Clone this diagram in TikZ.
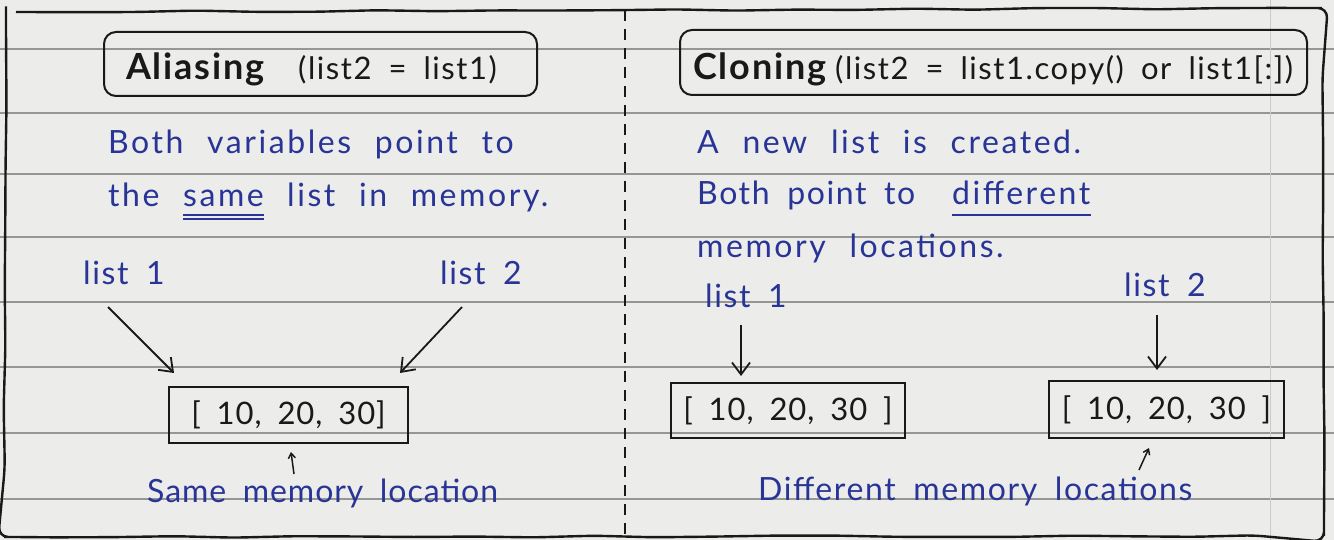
\documentclass[tikz,border=0pt]{standalone}
\usepackage{fontspec}
\setmainfont{Lato}
\newfontfamily\handfont{Lato}[LetterSpace=5, WordSpace=1.8]
\newfontfamily\parafont{Lato}[LetterSpace=8, WordSpace=2.2]
\newfontfamily\tightfont{Lato}[LetterSpace=3, WordSpace=1.8]
\usetikzlibrary{arrows.meta,decorations.pathmorphing,calc}
\definecolor{ink}{RGB}{40,52,150}
\definecolor{paper}{RGB}{236,236,234}
\definecolor{ruleline}{RGB}{150,150,148}
\definecolor{pen}{RGB}{25,25,25}
\begin{document}
\begin{tikzpicture}[x=1pt,y=-1pt,
  hand/.style={inner sep=0pt, anchor=base west, text=ink, font=\handfont\fontsize{32}{36}\selectfont},
  para/.style={hand, font=\parafont\fontsize{32}{36}\selectfont},
  ttl/.style={inner sep=0pt, anchor=base west, text=pen, font=\handfont\bfseries\fontsize{36}{40}\selectfont},
  ttlsub/.style={inner sep=0pt, anchor=base west, text=pen, font=\handfont\fontsize{31}{34}\selectfont},
  tbox/.style={draw=pen, line width=2pt, rounded corners=12pt},
  listbox/.style={draw=pen, line width=2.2pt, inner sep=0pt, text=pen, font=\tightfont\fontsize{31}{36}\selectfont},
  arr/.style={draw=pen, line width=1.8pt, -{Straight Barb[length=12pt,width=18pt,line width=1.8pt]}},
  tinyarr/.style={draw=pen, line width=1.5pt, -{Straight Barb[length=5pt,width=7pt,line width=1.5pt]}},
  uline/.style={draw=ink, line width=1.8pt}
]
\fill[paper] (0,0) rectangle (1334,540);
\useasboundingbox (0,0) rectangle (1334,540);
% ruled paper
\foreach \y in {49,113,174,237,302,367,433,499}
  \draw[ruleline, line width=1.3pt] (0,\y) -- (1334,\y);
\draw[ruleline!40!paper, line width=1pt] (1270,0) -- (1270,540);
% outer border
\draw[pen, line width=2.4pt, rounded corners=10pt, decorate,
  decoration={random steps, segment length=60pt, amplitude=0.9pt}]
  (6,12) -- (1322,8) -- (1324,536) -- (4,537) -- cycle;
% divider
\draw[pen, line width=1.6pt, dash pattern=on 11pt off 8pt] (625,10) -- (625,540);

% ---------- left: Aliasing ----------
\draw[tbox] (104,32) rectangle (537,96);
\node[ttl] (at) at (126,80) {Aliasing};
\node[ttlsub] (as) at (298,80) {(list2 = list1)};
\node[para] (b1) at (108,154) {Both variables point to};
\node[para] (the) at (108,207) {the};
\node[para] (same) at (183,207) {same};
\node[para] (lim) at (287,207) {list in memory.};
\draw[uline] ($(same.base west)+(0,8)$) -- ($(same.base east)+(0,8)$);
\draw[uline] ($(same.base west)+(0,12)$) -- ($(same.base east)+(0,12)$);
\node[hand] (l1) at (83,285) {list 1};
\node[hand] (l2) at (440,285) {list 2};
\node[listbox, minimum width=239pt, minimum height=56pt] (lbox) at (288.5,415) {[ 10, 20, 30]};
\coordinate (s1) at (108,307);
\coordinate (e1) at (174,373);
\coordinate (s2) at (462,307);
\coordinate (e2) at (400,373);
\draw[arr] (s1) -- (e1);
\draw[arr] (s2) -- (e2);
\coordinate (ls) at (294,474);
\coordinate (le) at (291,452);
\draw[tinyarr] (ls) -- (le);
\node[hand, font=\tightfont\fontsize{32}{36}\selectfont] (lcap) at (147,502) {Same memory location};

% ---------- right: Cloning ----------
\draw[tbox] (680,30) rectangle (1307,95);
\node[ttl] (ct) at (693,80) {Cloning};
\node[ttlsub] (cs) at (835,80) {(list2 = list1.copy() or list1[:])};
\node[para] (c1) at (697,154) {A new list is created.};
\node[hand] (c2) at (697,205) {Both point to};
\node[para] (diff) at (952,205) {different};
\draw[uline] ($(diff.base west)+(0,10)$) -- ($(diff.base east)+(0,10)$);
\node[para] (c3) at (697,258) {memory locations.};
\node[hand] (r1) at (705,307) {list 1};
\node[hand] (r2) at (1124,297) {list 2};
\node[listbox, minimum width=234pt, minimum height=55pt] (rbox1) at (788,410.5) {[ 10, 20, 30 ]};
\node[listbox, minimum width=235pt, minimum height=57pt] (rbox2) at (1166.5,409.5) {[ 10, 20, 30 ]};
\coordinate (s3) at (741,325);
\coordinate (e3) at (741,376);
\coordinate (s4) at (1157,315);
\coordinate (e4) at (1157,370);
\draw[arr] (s3) -- (e3);
\draw[arr] (s4) -- (e4);
\coordinate (rs) at (1139,470);
\coordinate (re) at (1149,448);
\draw[tinyarr] (rs) -- (re);
\node[hand] (rcap) at (758,500) {Different memory locations};
\end{tikzpicture}
\end{document}
